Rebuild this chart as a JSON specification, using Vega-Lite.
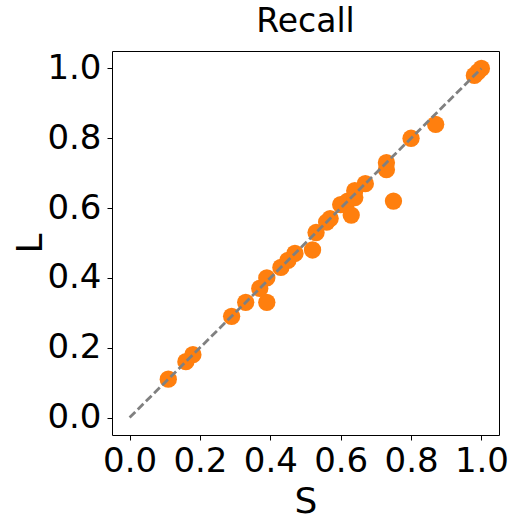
{
  "$schema": "https://vega.github.io/schema/vega-lite/v6.json",
  "width": 387,
  "height": 384,
  "autosize": {"type": "none"},
  "padding": {"left": 112, "top": 51, "right": 19, "bottom": 91},
  "background": "white",
  "config": {
    "font": "DejaVu Sans",
    "view": {"stroke": "black", "strokeWidth": 1},
    "axis": {
      "grid": false,
      "domain": false,
      "ticks": true,
      "tickColor": "black",
      "tickWidth": 1,
      "tickSize": 5,
      "labelFont": "DejaVu Sans",
      "labelFontSize": 34,
      "labelColor": "black",
      "labelPadding": 4,
      "titleFont": "DejaVu Sans",
      "titleFontSize": 36,
      "titleFontWeight": "normal",
      "titleColor": "black"
    }
  },
  "title": {
    "text": "Recall",
    "fontSize": 33,
    "fontWeight": "normal",
    "font": "DejaVu Sans",
    "color": "black",
    "offset": 12
  },
  "layer": [
    {
      "data": {
        "values": [
          {"S": 0.11, "L": 0.11},
          {"S": 0.16, "L": 0.16},
          {"S": 0.18, "L": 0.18},
          {"S": 0.29, "L": 0.29},
          {"S": 0.33, "L": 0.33},
          {"S": 0.39, "L": 0.33},
          {"S": 0.37, "L": 0.37},
          {"S": 0.39, "L": 0.40},
          {"S": 0.43, "L": 0.43},
          {"S": 0.45, "L": 0.45},
          {"S": 0.47, "L": 0.47},
          {"S": 0.52, "L": 0.48},
          {"S": 0.53, "L": 0.53},
          {"S": 0.56, "L": 0.56},
          {"S": 0.57, "L": 0.57},
          {"S": 0.60, "L": 0.61},
          {"S": 0.62, "L": 0.62},
          {"S": 0.63, "L": 0.58},
          {"S": 0.64, "L": 0.63},
          {"S": 0.64, "L": 0.65},
          {"S": 0.67, "L": 0.67},
          {"S": 0.73, "L": 0.71},
          {"S": 0.73, "L": 0.73},
          {"S": 0.75, "L": 0.62},
          {"S": 0.80, "L": 0.80},
          {"S": 0.87, "L": 0.84},
          {"S": 0.98, "L": 0.98},
          {"S": 0.99, "L": 0.99},
          {"S": 1.00, "L": 1.00}
        ]
      },
      "mark": {"type": "circle", "size": 300, "color": "#ff7f0e", "opacity": 1},
      "encoding": {
        "x": {
          "field": "S", "type": "quantitative", "title": "S",
          "scale": {"domain": [-0.05, 1.05], "nice": false, "zero": false},
          "axis": {"values": [0, 0.2, 0.4, 0.6, 0.8, 1.0], "format": ".1f", "titlePadding": 6}
        },
        "y": {
          "field": "L", "type": "quantitative", "title": "L",
          "scale": {"domain": [-0.05, 1.05], "nice": false, "zero": false},
          "axis": {"values": [0, 0.2, 0.4, 0.6, 0.8, 1.0], "format": ".1f", "titlePadding": -3, "labelPadding": 6}
        }
      }
    },
    {
      "data": {"values": [{"S": 0, "L": 0}, {"S": 1, "L": 1}]},
      "mark": {"type": "line", "color": "gray", "strokeWidth": 2.8, "strokeDash": [8, 3.5]},
      "encoding": {
        "x": {"field": "S", "type": "quantitative"},
        "y": {"field": "L", "type": "quantitative"}
      }
    }
  ]
}
